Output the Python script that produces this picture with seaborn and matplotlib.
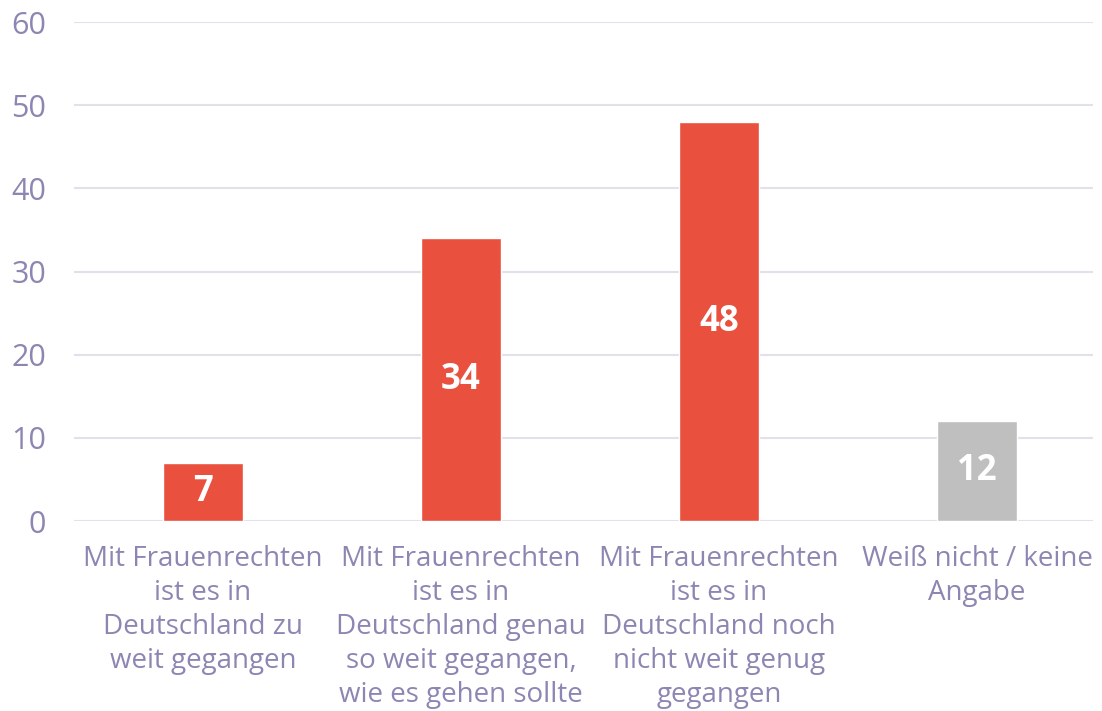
import matplotlib
matplotlib.use("Agg")
import matplotlib.pyplot as plt
import seaborn as sns
import pandas as pd

categories = [
    "Mit Frauenrechten\nist es in\nDeutschland zu\nweit gegangen",
    "Mit Frauenrechten\nist es in\nDeutschland genau\nso weit gegangen,\nwie es gehen sollte",
    "Mit Frauenrechten\nist es in\nDeutschland noch\nnicht weit genug\ngegangen",
    "Weiß nicht / keine\nAngabe",
]
values = [7, 34, 48, 12]
colors = ["#E9503E", "#E9503E", "#E9503E", "#BFBFBF"]
yticks = [0, 10, 20, 30, 40, 50, 60]

sns.set_style("white")
plt.rcParams["font.family"] = ["Open Sans", "DejaVu Sans"]

df = pd.DataFrame({"cat": categories, "val": values})

fig = plt.figure(figsize=(11.02, 7.11), dpi=100)
ax = fig.add_axes([0.067, 0.267, 0.925, 0.702])

sns.barplot(data=df, x="cat", y="val", hue="cat", palette=colors,
            width=0.31, legend=False, ax=ax, saturation=1)

for i, v in enumerate(values):
    ax.text(i, v / 2, str(v), ha="center", va="center", color="white",
            fontsize=25, fontweight="bold")

ax.set_ylim(0, 60)
ax.set_xlim(-0.5, 3.45)
ax.set_yticks(yticks)
ax.yaxis.grid(True, color="#E3E0EB", linewidth=1.5)
ax.set_axisbelow(True)
for s in ax.spines.values():
    s.set_visible(False)
ax.set_xlabel("")
ax.set_ylabel("")
ax.tick_params(axis="y", colors="#8C86B2", labelsize=22, length=0, pad=20)
ax.tick_params(axis="x", colors="#8C86B2", labelsize=20, length=0, pad=17)
for lbl in ax.get_xticklabels():
    lbl.set_linespacing(1.29)

fig.savefig("out.png", dpi=100)
